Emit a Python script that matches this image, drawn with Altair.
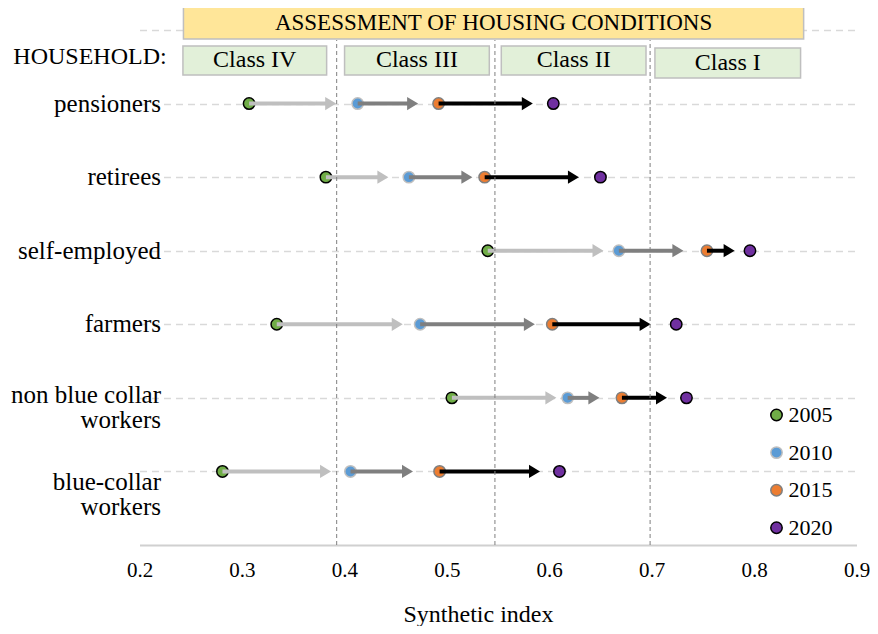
import altair as alt
import pandas as pd

FONT = "Liberation Serif"

# ---------------- data ----------------
households = ["pensioners", "retirees", "self-employed", "farmers",
              "non blue collar\nworkers", "blue-collar\nworkers"]
years = ["2005", "2010", "2015", "2020"]
v2005 = [0.307, 0.382, 0.540, 0.334, 0.505, 0.281]
v2010 = [0.413, 0.463, 0.668, 0.474, 0.618, 0.406]
v2015 = [0.492, 0.537, 0.754, 0.603, 0.671, 0.493]
v2020 = [0.604, 0.650, 0.796, 0.724, 0.734, 0.610]

# arrow tips (where each arrow head ends)
tip_05_10 = [0.392, 0.443, 0.653, 0.457, 0.607, 0.387]
tip_10_15 = [0.472, 0.525, 0.731, 0.586, 0.649, 0.467]
tip_15_20 = [0.584, 0.629, 0.781, 0.699, 0.715, 0.591]
segments = ["2005-2010", "2010-2015", "2015-2020"]

fill_colors = ["#70AD47", "#5B9BD5", "#ED7D31", "#7030A0"]
stroke_colors = ["#000000", "#BFBFBF", "#7F7F7F", "#000000"]
arrow_colors = ["#BFBFBF", "#7F7F7F", "#000000"]

x_ticks = [0.2, 0.3, 0.4, 0.5, 0.6, 0.7, 0.8, 0.9]
grid_rows = [1, 2, 3, 4, 5, 6, 7]

header_title = ["ASSESSMENT OF HOUSING CONDITIONS"]
header_x1 = [0.2429]
header_x2 = [0.8484]
header_y1 = [6.878]
header_y2 = [7.313]

class_labels = ["Class IV", "Class III", "Class II", "Class I"]
class_x1 = [0.2424, 0.4002, 0.5532, 0.7032]
class_x2 = [0.3827, 0.5415, 0.6945, 0.8454]
class_y1 = [6.389, 6.389, 6.389, 6.348]
class_y2 = [6.783, 6.783, 6.783, 6.755]
class_bounds = [0.3925, 0.547, 0.6985]
class_bound_top = 6.864

household_label = ["HOUSEHOLD:"]
household_label_x = [0.2265]
household_label_y = [6.633]

# ---------------- tables ----------------
n = len(households)
rows = [n - i for i in range(n)]
values = [v2005, v2010, v2015, v2020]
tips = [tip_05_10, tip_10_15, tip_15_20]

pts = pd.DataFrame([
    {"household": households[i], "row": rows[i], "year": years[k], "value": values[k][i]}
    for i in range(n) for k in range(4)
])
arr = pd.DataFrame([
    {"household": households[i], "row": rows[i], "segment": segments[k],
     "start": values[k][i], "tip": tips[k][i]}
    for i in range(n) for k in range(3)
])
lab = pd.DataFrame({"label": households, "row": rows})
hdr = pd.DataFrame({"label": header_title, "x1": header_x1, "x2": header_x2,
                    "y1": header_y1, "y2": header_y2})
cls = pd.DataFrame({"label": class_labels, "x1": class_x1, "x2": class_x2,
                    "y1": class_y1, "y2": class_y2})
bnd = pd.DataFrame({"b": class_bounds})
hh = pd.DataFrame({"label": household_label, "x": household_label_x, "y": household_label_y})

xscale = alt.Scale(domain=[0.2, 0.9], nice=False, zero=False)
yscale = alt.Scale(domain=[0, 7], nice=False, zero=False)

x_axis = alt.Axis(values=x_ticks, format=".1f", grid=False, ticks=False,
                  domainColor="#D0D0D0", domainWidth=2, labelFlush=False,
                  labelFont=FONT, labelFontSize=21, labelColor="black", labelPadding=14,
                  title="Synthetic index", titleFont=FONT, titleFontSize=24,
                  titleFontWeight="normal", titleColor="black", titlePadding=22,
                  titleX=338.5, titleAlign="center")
y_axis = alt.Axis(values=grid_rows, grid=True, gridDash=[7, 5], gridColor="#D9D9D9",
                  gridWidth=1.5, domain=False, ticks=False, labels=False, title=None)

# header boxes
hdr_rect = alt.Chart(hdr).mark_rect(fill="#FFE699", stroke="#BFBFBF", strokeWidth=1.5).encode(
    x=alt.X("x1:Q", scale=xscale, axis=x_axis), x2="x2:Q",
    y=alt.Y("y1:Q", scale=yscale, axis=y_axis), y2="y2:Q")
hdr_text = alt.Chart(hdr).transform_calculate(
    xm="(datum.x1+datum.x2)/2", ym="(datum.y1+datum.y2)/2"
).mark_text(font=FONT, fontSize=23, color="black", baseline="middle", align="center").encode(
    x="xm:Q", y="ym:Q", text="label:N")
cls_rect = alt.Chart(cls).mark_rect(fill="#E2F0D9", stroke="#BFBFBF", strokeWidth=1.5).encode(
    x="x1:Q", x2="x2:Q", y="y1:Q", y2="y2:Q")
cls_text = alt.Chart(cls).transform_calculate(
    xm="(datum.x1+datum.x2)/2", ym="(datum.y1+datum.y2)/2"
).mark_text(font=FONT, fontSize=24, color="black", baseline="middle", align="center").encode(
    x="xm:Q", y="ym:Q", text="label:N")
hh_text = alt.Chart(hh).mark_text(font=FONT, fontSize=24, color="black",
                                  baseline="middle", align="right").encode(
    x="x:Q", y="y:Q", text="label:N")

# class boundaries
bounds = alt.Chart(bnd).mark_rule(color="#7F7F7F", strokeDash=[4, 3], strokeWidth=1).encode(
    x="b:Q", y=alt.datum(0), y2=alt.datum(class_bound_top))

# points
legend = alt.Legend(title=None, orient="none", legendX=626, legendY=374,
                    labelFont=FONT, labelFontSize=22, labelColor="black",
                    symbolSize=130, symbolStrokeWidth=1.5, symbolType="circle",
                    rowPadding=15.6, padding=0, labelOffset=1)
points = alt.Chart(pts).mark_point(shape="circle", filled=True, opacity=1, size=130,
                                   strokeWidth=1.5).encode(
    x="value:Q", y="row:Q",
    fill=alt.Fill("year:N", scale=alt.Scale(domain=years, range=fill_colors), legend=legend),
    stroke=alt.Stroke("year:N", scale=alt.Scale(domain=years, range=stroke_colors), legend=legend),
)

# arrows
arrow_color = alt.Color("segment:N", scale=alt.Scale(domain=segments, range=arrow_colors),
                        legend=None)
shafts = alt.Chart(arr).mark_rule(strokeWidth=4, x2Offset=-8).encode(
    x="start:Q", x2="tip:Q", y="row:Q", color=arrow_color)
heads = alt.Chart(arr).mark_point(shape="M0,0L-1,-0.6L-1,0.6Z", filled=True, opacity=1,
                                  size=484, strokeWidth=0).encode(
    x="tip:Q", y="row:Q", color=arrow_color)

# row labels
single = alt.Chart(lab).transform_filter("datum.row >= 3").mark_text(
    font=FONT, fontSize=25, color="black", align="right", baseline="middle", dx=21.5
).encode(x=alt.datum(0.2), y="row:Q", text="label:N")
nonblue = alt.Chart(lab).transform_filter("datum.row == 2").mark_text(
    font=FONT, fontSize=25, color="black", align="right", baseline="middle", dx=21.5,
    dy=-2.5, lineBreak="\n", lineHeight=25
).encode(x=alt.datum(0.2), y="row:Q", text="label:N")
bluec = alt.Chart(lab).transform_filter("datum.row == 1").mark_text(
    font=FONT, fontSize=25, color="black", align="right", baseline="middle", dx=21.5,
    dy=11, lineBreak="\n", lineHeight=25
).encode(x=alt.datum(0.2), y="row:Q", text="label:N")

chart = alt.layer(
    hdr_rect, hdr_text, cls_rect, cls_text, hh_text,
    points, shafts, heads, bounds, single, nonblue, bluec
).resolve_scale(color="independent").properties(
    width=717, height=515,
    autosize=alt.AutoSizeParams(type="none"),
    padding={"left": 131.5, "top": 22, "right": 13.5, "bottom": 81},
).configure(font=FONT).configure_view(stroke=None)

chart.save("out.html", embed_options={"renderer": "svg", "actions": False})
